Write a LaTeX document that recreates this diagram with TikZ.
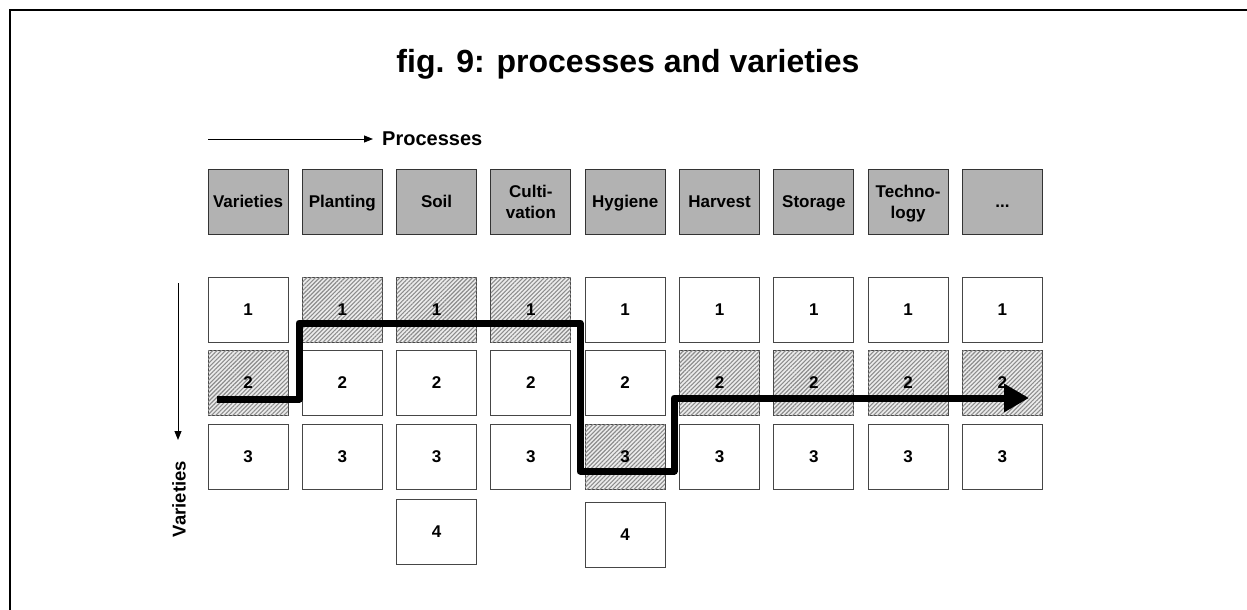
\documentclass[tikz,border=0pt]{standalone}
\usepackage{fontspec}
\setmainfont{Liberation Sans}
\usetikzlibrary{arrows.meta,patterns.meta}
\definecolor{headgray}{RGB}{178,178,178}
\definecolor{hatchbg}{RGB}{236,236,236}
\definecolor{hatchln}{RGB}{140,140,140}
\definecolor{edgegray}{RGB}{70,70,70}
\tikzset{
  cell/.style={draw=edgegray,line width=1pt,minimum width=80pt,minimum height=65pt,
    inner sep=0pt,text depth=0pt,font=\fontsize{17}{21}\selectfont\bfseries,align=center,fill=white},
  head/.style={cell,fill=headgray,draw=black!80},
  hatched/.style={cell,fill=hatchbg,postaction={pattern={Lines[angle=45,distance=3pt,line width=1.1pt]},pattern color=hatchln}},
  route/.style={line width=7pt,line join=round,-{Triangle[length=25pt,width=27pt]}},
  thinarrow/.style={line width=1pt,-{Triangle[length=9pt,width=7pt]}}
}
\begin{document}
\begin{tikzpicture}[x=1pt,y=-1pt]
\useasboundingbox (0,0) rectangle (1247,610);
% frame (only top and left edges visible)
\draw[line width=2pt] (10,610) -- (10,10) -- (1247,10);
% title
\node[anchor=base,font=\fontsize{32}{36}\selectfont\bfseries,inner sep=0pt] (title) at (628,72) {fig. 9: processes and varieties};
% processes arrow
\coordinate (pa) at (208,139);
\node[anchor=west,inner sep=0pt,font=\fontsize{20}{22}\selectfont\bfseries] (proc) at (382,139) {Processes};
\draw[thinarrow] (pa) -- ([xshift=-9pt]proc.west);
% varieties arrow
\coordinate (va) at (178,283);
\coordinate (vb) at (178,440);
\draw[thinarrow] (va) -- (vb);
\node[rotate=90,inner sep=0pt,font=\fontsize{18.5}{20}\selectfont\bfseries] (vlab) at (179,499) {Varieties};
% header row
\node[head] (h1) at (248,201.5) {Varieties};
\node[head] (h2) at (342.3,201.5) {Planting};
\node[head] (h3) at (436.6,201.5) {Soil};
\node[head,text depth=-3pt] (h4) at (530.9,201.5) {Culti-\\vation};
\node[head] (h5) at (625.2,201.5) {Hygiene};
\node[head] (h6) at (719.5,201.5) {Harvest};
\node[head] (h7) at (813.8,201.5) {Storage};
\node[head,text depth=-3pt] (h8) at (908.1,201.5) {Techno-\\logy};
\node[head,text height=12pt] (h9) at (1002.4,201.5) {...};
% row 1
\node[cell]    (a1) at (248,310) {1};
\node[hatched] (a2) at (342.3,310) {1};
\node[hatched] (a3) at (436.6,310) {1};
\node[hatched] (a4) at (530.9,310) {1};
\node[cell]    (a5) at (625.2,310) {1};
\node[cell]    (a6) at (719.5,310) {1};
\node[cell]    (a7) at (813.8,310) {1};
\node[cell]    (a8) at (908.1,310) {1};
\node[cell]    (a9) at (1002.4,310) {1};
% row 2
\node[hatched] (b1) at (248,382.5) {2};
\node[cell]    (b2) at (342.3,382.5) {2};
\node[cell]    (b3) at (436.6,382.5) {2};
\node[cell]    (b4) at (530.9,382.5) {2};
\node[cell]    (b5) at (625.2,382.5) {2};
\node[hatched] (b6) at (719.5,382.5) {2};
\node[hatched] (b7) at (813.8,382.5) {2};
\node[hatched] (b8) at (908.1,382.5) {2};
\node[hatched] (b9) at (1002.4,382.5) {2};
% row 3
\node[cell]    (c1) at (248,456.5) {3};
\node[cell]    (c2) at (342.3,456.5) {3};
\node[cell]    (c3) at (436.6,456.5) {3};
\node[cell]    (c4) at (530.9,456.5) {3};
\node[hatched] (c5) at (625.2,457) {3};
\node[cell]    (c6) at (719.5,456.5) {3};
\node[cell]    (c7) at (813.8,456.5) {3};
\node[cell]    (c8) at (908.1,456.5) {3};
\node[cell]    (c9) at (1002.4,456.5) {3};
% row 4
\node[cell] (d3) at (436.6,531.5) {4};
\node[cell] (d5) at (625.2,535) {4};
% route
\coordinate (r0) at (217,399);
\coordinate (r1) at (299,399);
\coordinate (r2) at (299,323);
\coordinate (r3) at (580,323);
\coordinate (r4) at (580,471);
\coordinate (r5) at (674,471);
\coordinate (r6) at (674,398);
\coordinate (r7) at (1029,398);
\draw[route] (r0) -- (r1) -- (r2) -- (r3) -- (r4) -- (r5) -- (r6) -- (r7);
\end{tikzpicture}
\end{document}
